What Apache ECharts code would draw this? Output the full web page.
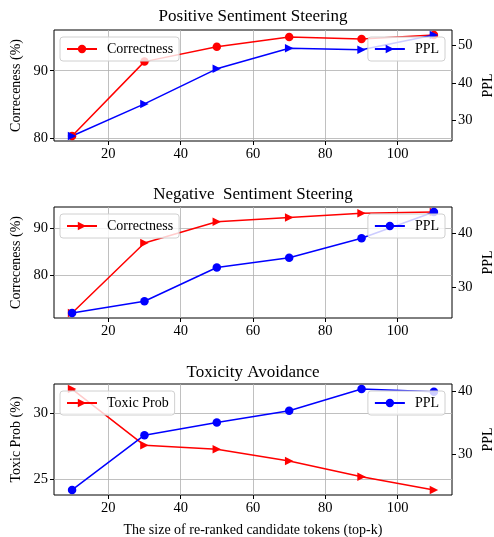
<!DOCTYPE html>
<html>
<head>
<meta charset="utf-8">
<script src="https://cdn.jsdelivr.net/npm/echarts@6/dist/echarts.min.js"></script>
<style>
  html, body { margin: 0; padding: 0; background: #fff; }
  #chart { width: 494px; height: 537px; }
</style>
</head>
<body>
<div id="chart"></div>
<script>
const topK = [10, 30, 50, 70, 90, 110]
const xTicks = [20, 40, 60, 80, 100]

// Positive Sentiment Steering
const posCorrect = [80.3, 91.35, 93.57, 95.0, 94.7, 95.3]
const posPPL = [25.9, 34.45, 43.8, 49.3, 48.9, 52.8]
// Negative Sentiment Steering
const negCorrect = [71.75, 86.9, 91.5, 92.4, 93.35, 93.6]
const negPPL = [25.3, 27.45, 33.66, 35.43, 39.03, 43.84]
// Toxicity Avoidance
const toxicProb = [31.8, 27.56, 27.26, 26.38, 25.2, 24.2]
const toxicPPL = [24.36, 33.0, 35.0, 36.85, 40.27, 39.85]

const posLeftTicks = [80, 90]
const posRightTicks = [30, 40, 50]
const negLeftTicks = [80, 90]
const negRightTicks = [30, 40]
const toxLeftTicks = [25, 30]
const toxRightTicks = [30, 40]

const FONT = 'Liberation Serif'
const RIGHT_TRI = -90

// matplotlib style 5% margins
function padExtent(arr) {
  const lo = Math.min(...arr), hi = Math.max(...arr)
  const r = hi - lo
  return [lo - 0.05 * r, hi + 0.05 * r]
}

const panels = [
  {
    title: 'Positive Sentiment Steering', top: 30, titleTop: 8,
    left: { name: 'Correceness (%)', data: posCorrect, ticks: posLeftTicks, label: 'Correctness', symbol: 'circle' },
    right: { name: 'PPL', data: posPPL, ticks: posRightTicks, label: 'PPL', symbol: 'triangle' }
  },
  {
    title: 'Negative  Sentiment Steering', top: 207, titleTop: 186,
    left: { name: 'Correceness (%)', data: negCorrect, ticks: negLeftTicks, label: 'Correctness', symbol: 'triangle' },
    right: { name: 'PPL', data: negPPL, ticks: negRightTicks, label: 'PPL', symbol: 'circle' }
  },
  {
    title: 'Toxicity Avoidance', top: 384, titleTop: 364,
    left: { name: 'Toxic Prob (%)', data: toxicProb, ticks: toxLeftTicks, label: 'Toxic Prob', symbol: 'triangle' },
    right: { name: 'PPL', data: toxicPPL, ticks: toxRightTicks, label: 'PPL', symbol: 'circle' }
  }
]

const option = {
  backgroundColor: '#fff',
  animation: false,
  title: [], grid: [], xAxis: [], yAxis: [], series: [], legend: []
}

const tickLabel = { fontFamily: FONT, fontSize: 14.5, color: '#000' }
const gridLine = { show: true, lineStyle: { color: '#b0b0b0', width: 0.8 } }

panels.forEach((p, i) => {
  option.title.push({
    text: p.title, left: 253, textAlign: 'center', top: p.titleTop, padding: 0,
    textStyle: { fontFamily: FONT, fontSize: 17, fontWeight: 'normal', color: '#000' }
  })
  option.grid.push({
    left: 54, right: 42, top: p.top, height: 111,
    outerBoundsMode: 'none', containLabel: false,
    show: true, borderColor: '#000', borderWidth: 1, backgroundColor: 'transparent'
  })
  const xa = {
    type: 'value', gridIndex: i, min: 5, max: 115,
    axisLine: { show: false },
    axisTick: { show: true, length: 4, lineStyle: { color: '#000' }, customValues: xTicks },
    axisLabel: Object.assign({ margin: 6, customValues: xTicks }, tickLabel),
    splitLine: gridLine
  }
  if (i === 2) {
    xa.name = 'The size of re-ranked candidate tokens (top-k)'
    xa.nameLocation = 'middle'
    xa.nameGap = 28.5
    xa.nameMoveOverlap = false
    xa.nameTextStyle = { fontFamily: FONT, fontSize: 14, color: '#000' }
  }
  option.xAxis.push(xa)

  const sides = [p.left, p.right]
  sides.forEach((s, j) => {
    const ext = padExtent(s.data)
    option.yAxis.push({
      type: 'value', gridIndex: i, position: j === 0 ? 'left' : 'right',
      min: ext[0], max: ext[1],
      name: s.name, nameLocation: 'middle', nameGap: j === 0 ? 31 : 29,
      nameMoveOverlap: false,
      nameTextStyle: { fontFamily: FONT, fontSize: 14, color: '#000' },
      axisLine: { show: false },
      axisTick: { show: true, length: 4, lineStyle: { color: '#000' }, customValues: s.ticks },
      axisLabel: Object.assign({ margin: 6, customValues: s.ticks }, tickLabel),
      splitLine: j === 0 ? gridLine : { show: false }
    })
    const color = j === 0 ? '#ff0000' : '#0000ff'
    const sname = s.label + '#' + i
    option.series.push({
      name: sname, type: 'line', xAxisIndex: i, yAxisIndex: i * 2 + j,
      data: topK.map((k, n) => [k, s.data[n]]),
      symbol: s.symbol, symbolSize: 8.5,
      symbolRotate: s.symbol === 'triangle' ? RIGHT_TRI : 0,
      clip: false,
      lineStyle: { color: color, width: 1.5 },
      itemStyle: { color: color }
    })
    const lg = {
      data: [sname], top: p.top + 7,
      orient: 'horizontal', itemWidth: 30, itemHeight: 10.5,
      padding: [5, 6, 5, 6], borderColor: '#d0d0d0', borderWidth: 1, borderRadius: 3,
      backgroundColor: 'rgba(255,255,255,0.8)',
      selectedMode: false,
      formatter: n => n.split('#')[0],
      textStyle: { fontFamily: FONT, fontSize: 14, color: '#000', padding: [0, 0, 0, 5] }
    }
    if (j === 0) lg.left = 60
    else lg.right = 49
    option.legend.push(lg)
  })
})

const chart = echarts.init(document.getElementById('chart'), null, { renderer: 'canvas' })
chart.setOption(option)
</script>
</body>
</html>
